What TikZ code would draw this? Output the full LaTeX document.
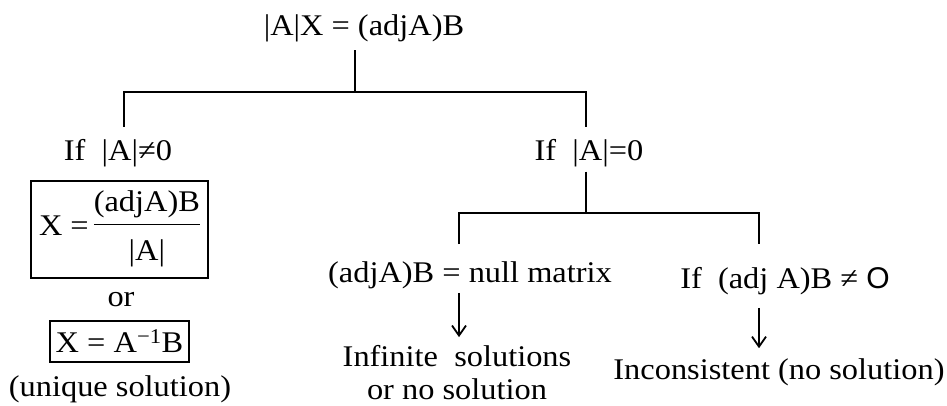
\documentclass[tikz,border=0pt]{standalone}
\usepackage{fontspec}
\setmainfont{Liberation Serif}[FakeStretch=1.08]
\setsansfont{Liberation Sans}
\usepackage{tikz}
\usetikzlibrary{arrows.meta,positioning,calc}

\begin{document}
\begin{tikzpicture}[
    x=1pt, y=-1pt,
    txt/.style={inner sep=0pt, font=\fontsize{30}{33}\selectfont, align=center},
    resbox/.style={draw, line width=1.8pt, inner sep=0pt, font=\fontsize{30}{33}\selectfont},
    tree/.style={line width=2.6pt},
    arr/.style={line width=1.8pt, -{Straight Barb[length=10pt,width=14pt]}}
]
\useasboundingbox (0,0) rectangle (947,405);
% top equation and first split
\node[txt] (eq) at (364,28.5) {|A|X = (adjA)B};
\node[txt] (ifne) at (118,153.5) {If\ \ |A|≠0};
\node[txt] (ifeq) at (589,153.5) {If\ \ |A|=0};
\coordinate (s1) at (355,92);
\coordinate (s2) at (586,213);
\coordinate (l1) at (124,0);
\coordinate (lo) at (459,0);
\coordinate (ro) at (759,0);
% non-singular case
\node[resbox, minimum width=177pt, minimum height=97pt] (frac) at (119.5,229.5)
    {X =\,\setlength\arrayrulewidth{1.5pt}\raisebox{24pt}{\begin{tabular}[t]{@{}c@{}}(adjA)B\\[2pt]\hline\rule{0pt}{35pt}|A|\end{tabular}}};
\node[txt] (ortxt) at (121,300) {or};
\node[resbox, minimum width=139pt, minimum height=41pt] (inv) at (119.5,341.5) {X = A\textsuperscript{−1}B};
\node[txt] (uniq) at (120,389) {(unique solution)};
% singular case
\node[txt] (nullm) at (470,275) {(adjA)B = null matrix};
\node[txt] (ifnz) at (785,281) {If\ \ (adj A)B ≠ \textsf{O}};
\node[txt] (inf) at (457,372.5) {Infinite\ \ solutions\\or no solution};
\node[txt] (incons) at (779,372) {Inconsistent (no solution)};
% connectors
\draw[tree, shorten <=8pt] (eq.south -| s1) -- (s1);
\draw[tree, shorten <=13pt, shorten >=13pt] (ifne.north -| l1) |- (s1) -| (ifeq.north -| s2);
\draw[tree, shorten <=4pt] (ifeq.south -| s2) -- (s2);
\draw[tree, shorten <=17pt, shorten >=23pt] (nullm.north -| lo) |- (s2) -| (ifnz.north -| ro);
\draw[arr, shorten <=4pt, shorten >=8pt] (nullm.south -| lo) -- (inf.north -| lo);
\draw[arr, shorten <=13pt, shorten >=10pt] (ifnz.south -| ro) -- (incons.north -| ro);
\end{tikzpicture}
\end{document}
